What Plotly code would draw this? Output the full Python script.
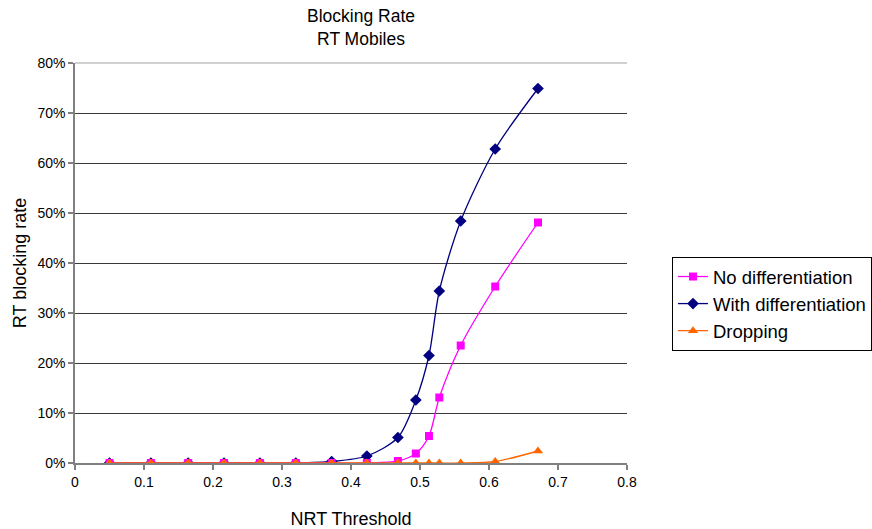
import plotly.graph_objects as go

x_vals = [0.05, 0.11, 0.164, 0.216, 0.268, 0.32, 0.372, 0.423, 0.468, 0.494, 0.513, 0.528, 0.559, 0.609, 0.671]
no_diff = [0, 0, 0, 0, 0, 0, 0, 0, 0.004, 0.019, 0.054, 0.131, 0.235, 0.353, 0.481]
with_diff = [0, 0, 0, 0, 0, 0, 0.003, 0.014, 0.051, 0.126, 0.215, 0.344, 0.484, 0.628, 0.749]
dropping = [0, 0, 0, 0, 0, 0, 0, 0, 0, 0, 0, 0, 0, 0.003, 0.024]

x_ticks = [0, 0.1, 0.2, 0.3, 0.4, 0.5, 0.6, 0.7, 0.8]
y_ticks = [0, 0.1, 0.2, 0.3, 0.4, 0.5, 0.6, 0.7, 0.8]

FONT = "Liberation Sans, Arial, sans-serif"

fig = go.Figure()
fig.add_trace(go.Scatter(x=x_vals, y=with_diff, name="With differentiation", mode="lines+markers",
                         legendrank=2,
                         line=dict(color="#000080", width=1.3, shape="spline", smoothing=0.8),
                         marker=dict(symbol="diamond", size=9, color="#000080")))
fig.add_trace(go.Scatter(x=x_vals, y=no_diff, name="No differentiation", mode="lines+markers",
                         legendrank=1,
                         line=dict(color="#FF00FF", width=1.3, shape="spline", smoothing=0.8),
                         marker=dict(symbol="square", size=8, color="#FF00FF")))
fig.add_trace(go.Scatter(x=x_vals, y=dropping, name="Dropping", mode="lines+markers",
                         legendrank=3,
                         line=dict(color="#FF6600", width=1.3, shape="spline", smoothing=0.8),
                         marker=dict(symbol="triangle-up", size=9, color="#FF6600")))

fig.update_layout(
    width=872, height=529,
    margin=dict(l=75, r=245, t=63, b=66, autoexpand=False),
    paper_bgcolor="white", plot_bgcolor="white",
    font=dict(family=FONT, color="black"),
    title=dict(text="Blocking Rate<br>RT Mobiles", x=(361/872), xanchor="center",
               yref="container", y=1 - 22/529, yanchor="middle", font=dict(size=17.5, family=FONT)),
    xaxis=dict(range=[0, 0.8], tickvals=x_ticks, ticktext=[f"{v:g}" for v in x_ticks],
               showgrid=False, zeroline=False, showline=True, linecolor="#808080", linewidth=1.5,
               ticks="outside", ticklen=5, tickcolor="#808080", tickwidth=1.5, automargin=False,
               tickfont=dict(size=14), title=dict(text="NRT Threshold", font=dict(size=18), standoff=24)),
    yaxis=dict(range=[0, 0.8], tickvals=y_ticks, tickformat=".0%",
               showgrid=True, gridcolor="#3a3a3a", gridwidth=1, zeroline=False,
               showline=True, linecolor="#808080", linewidth=1.5, automargin=False,
               ticks="outside", ticklen=5, tickcolor="#808080", tickwidth=1.5,
               tickfont=dict(size=14), title=dict(text="RT blocking rate", font=dict(size=18), standoff=6)),
    legend=dict(x=(672 - 75) / 552, y=(463 - 257) / 400, xanchor="left", yanchor="top",
                bordercolor="black", borderwidth=1, bgcolor="white", traceorder="normal",
                font=dict(size=18.5, family=FONT), itemwidth=30, tracegroupgap=0),
    showlegend=True,
)
# top plot-area border (light gray, as in reference)
fig.add_shape(type="line", xref="paper", yref="paper", x0=0, x1=1, y0=1, y1=1,
              line=dict(color="#d0d0d0", width=2), layer="above")

fig.write_html("out.html")
